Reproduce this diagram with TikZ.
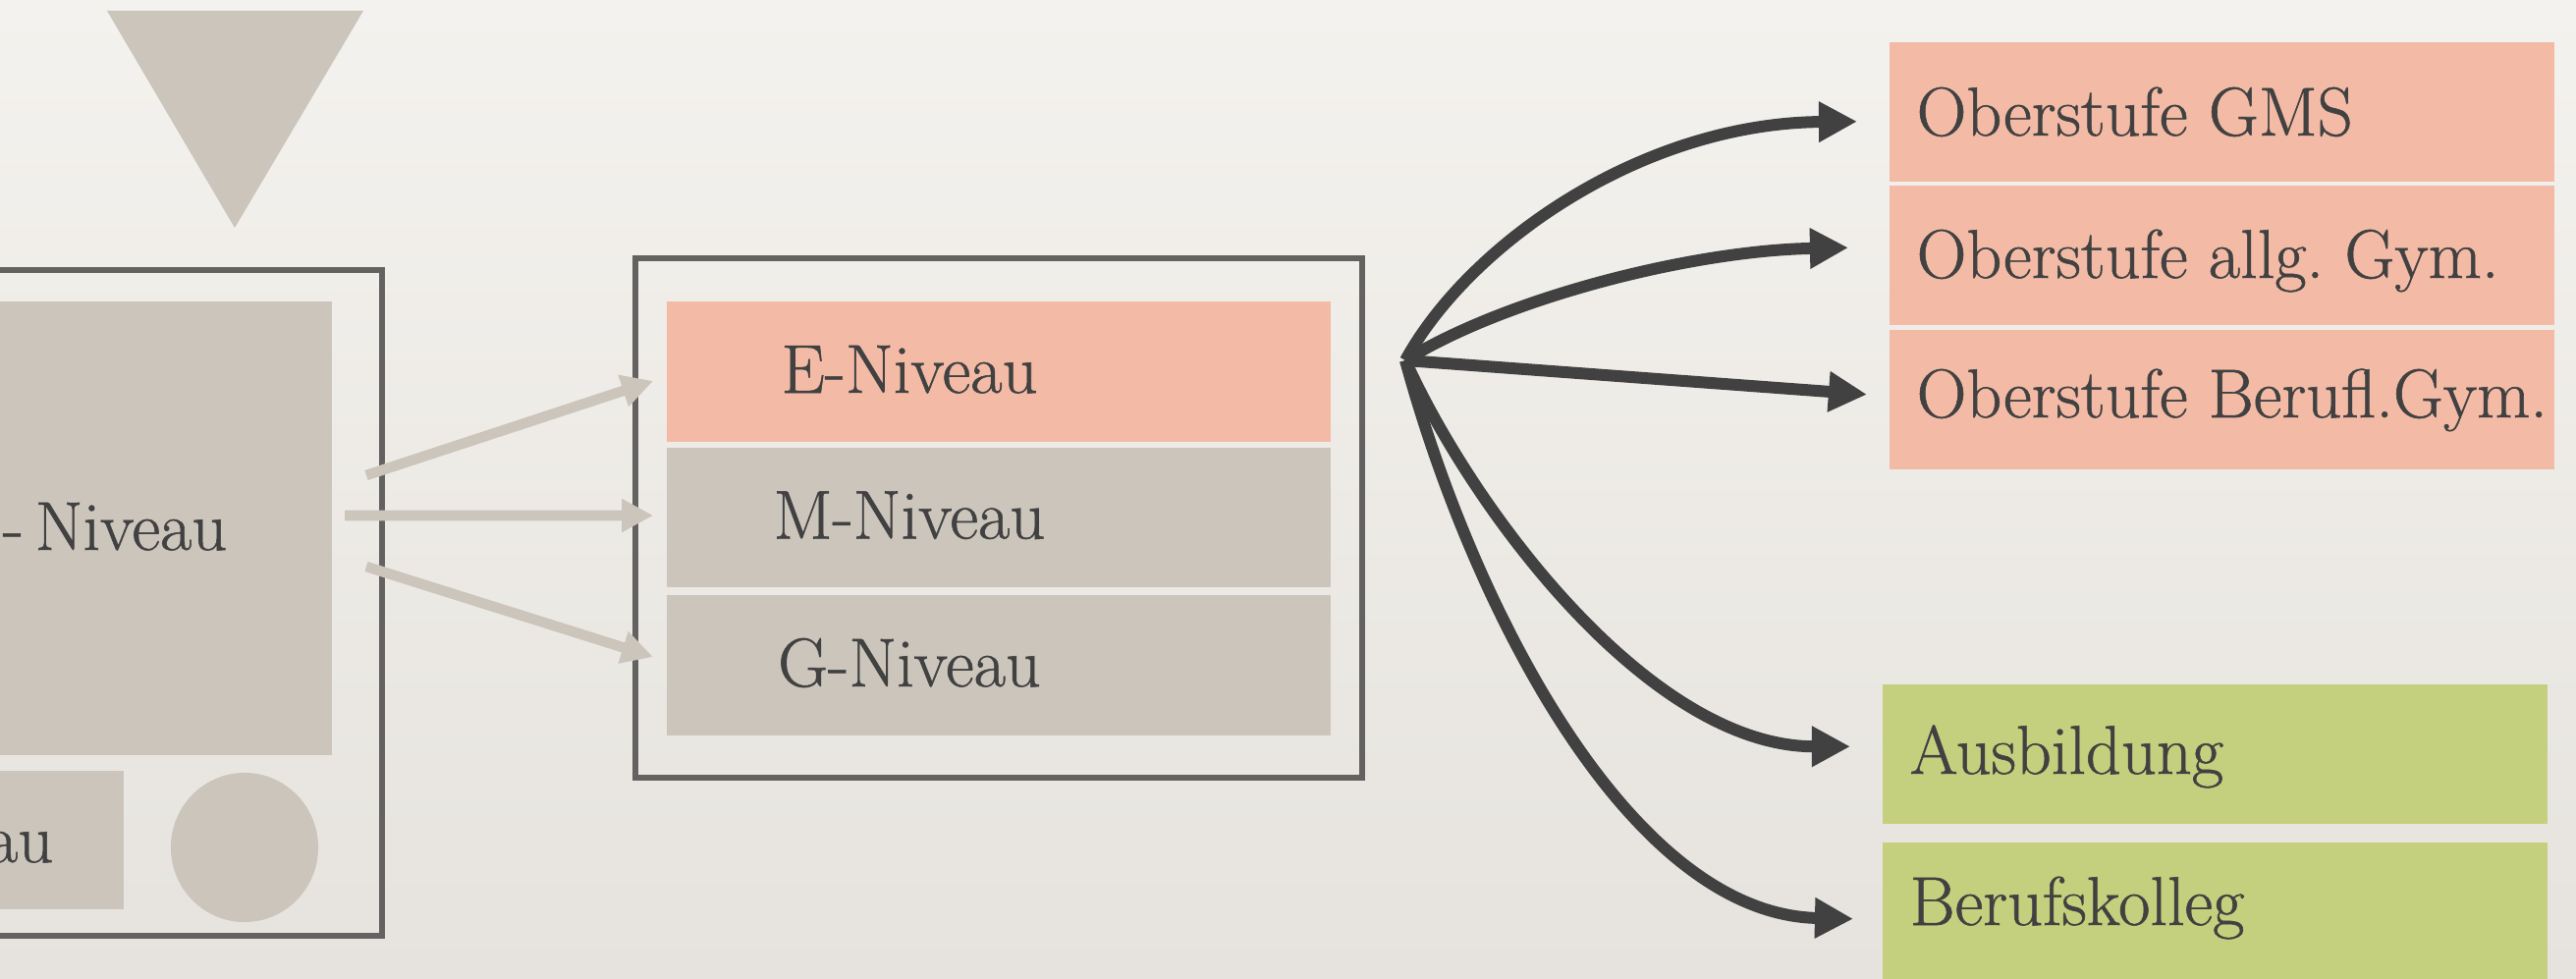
\documentclass[tikz,border=0pt]{standalone}
\usepackage{fontspec}
\setmainfont{Latin Modern Roman}[FakeBold=0.8]
\usepackage{xcolor}
\usepackage{tikz}
\usetikzlibrary{arrows.meta,positioning}
\definecolor{paper}{HTML}{F4F2EE}
\definecolor{paperdark}{HTML}{E6E3DE}
\definecolor{stone}{HTML}{CBC5BC}
\definecolor{salmon}{HTML}{F3BBA6}
\definecolor{lime}{HTML}{C4D07D}
\definecolor{ink}{HTML}{414141}
\definecolor{framegray}{HTML}{636260}

\begin{document}
\begin{tikzpicture}[x=0.01cm,y=-0.01cm,
    font=\fontsize{20}{24}\selectfont,text=ink,
    box/.style={draw=framegray,line width=0.55mm},
    level/.style={minimum width=6.76cm,minimum height=1.42cm,inner sep=0pt},
    dest/.style={anchor=north west,minimum width=6.77cm,minimum height=1.42cm,
      inner sep=0pt},
    lbl/.style={inner sep=0pt},
    feed/.style={draw=stone,line width=1.05mm,-{Triangle[length=3.2mm,width=3.2mm]}},
    route/.style={draw=ink,line width=1.2mm,-{Triangle[length=3.9mm,width=3.9mm]}}]
    \useasboundingbox (0,0) rectangle (2623,997);
    \shade[top color=paper,bottom color=paperdark] (0,0) rectangle (2623,997);

    \fill[stone] (109,11) -- (370,11) -- (239,232) -- cycle;
    \draw[box] (-30,275) rectangle (389,953);
    \fill[stone] (-30,307) rectangle (338,769);
    \fill[stone] (-30,785) rectangle (126,926);
    \fill[stone] (249,863) ellipse [x radius=0.75cm,y radius=0.76cm];
    \node[lbl,anchor=base east] (lvlbl) at (232,560) {-\,Niveau};
    \node[lbl,anchor=base east] (aulbl) at (55,878) {au};

    \draw[box] (647,263) rectangle (1387,792);
    \foreach \n/\y/\c in {E/378.5/salmon,M/527/stone,G/677.5/stone}{
      \node[level,fill=\c] (\n) at (1017,\y) {};
      \node[lbl,anchor=base] (\n lbl) at (926,\y+21.5) {\n-Niveau};
    }
    \foreach \n/\sx/\sy/\dy in {E/373/484/-0.95mm,M/351/525/0.2mm,G/373/577/0.85mm}{
      \coordinate (\n src) at (\sx,\sy);
      \draw[feed] (\n src) -- ([xshift=-1.3mm,yshift=\dy]\n.west);
    }

    \foreach \n/\x/\y/\b/\c/\t in {gms/1923/42/138/salmon/Oberstufe GMS,
        allg/1923/188/283/salmon/Oberstufe allg.\ Gym.,
        berufl/1923/335/425/salmon/Oberstufe Berufl.Gym.,
        ausb/1916/696/788/lime/Ausbildung,
        kolleg/1916/857/942/lime/Berufskolleg}{
      \node[dest,fill=\c] (\n) at (\x,\y) {};
      \node[lbl,anchor=base west] (\n lbl) at (\x+28,\b) {\t};
    }

    \coordinate (fan) at (1431,367);
    \draw[route] (fan) .. controls +(64,-117) and +(-221,2)
      .. ([xshift=-3.2mm,yshift=-1mm]gms.west);
    \draw[route] (fan) .. controls +(99,-62) and +(-162,3)
      .. ([xshift=-4.1mm,yshift=0.75mm]allg.west);
    \draw[route] (fan) -- ([xshift=-2.2mm,yshift=0.5mm]berufl.west);
    \draw[route] (fan) .. controls +(69,153) and +(-204,0)
      .. ([xshift=-3.2mm,yshift=0.75mm]ausb.west);
    \draw[route] (fan) .. controls +(69,253) and +(-227,-5)
      .. ([xshift=-2.9mm,yshift=-0.7mm]kolleg.west);
  \end{tikzpicture}
\end{document}
